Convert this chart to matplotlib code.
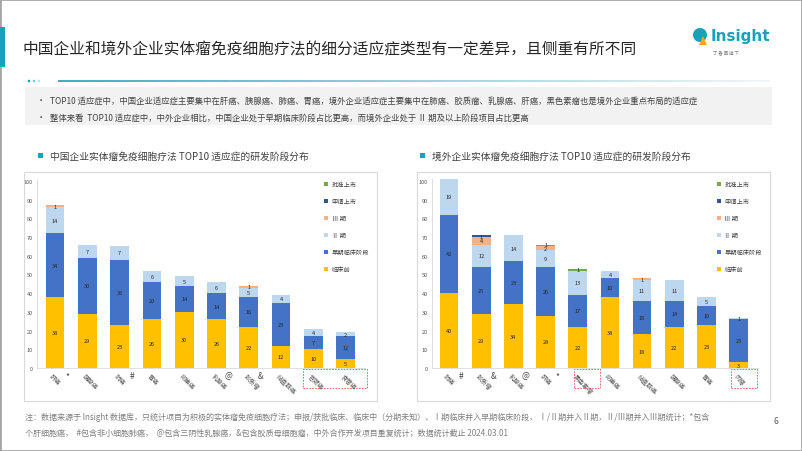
import matplotlib.pyplot as plt
import numpy as np
from matplotlib.patches import Rectangle, Circle, Polygon
from matplotlib.collections import LineCollection
from matplotlib.transforms import blended_transform_factory, IdentityTransform
import matplotlib.colors as mcolors

plt.rcParams['font.family'] = ['Noto Sans CJK SC', 'DejaVu Sans']

W, H = 802, 452

# ---- data ----
stages = ['临床前', '早期临床阶段', 'Ⅱ 期', 'Ⅲ 期', '申请上市', '批准上市']
stage_colors = ['#FFC000', '#4472C4', '#BDD7EE', '#F4B183', '#2F5597', '#70AD47']

cn_cats = ['肝癌', '胰腺癌', '肺癌', '胃癌', '卵巢癌', '乳腺癌', '胶质瘤', '结直肠癌', '宫颈癌', '食管癌']
cn_marks = ['*', '', '#', '', '', '@', '&', '', '', '']
cn_pre = [38, 29, 23, 26, 30, 26, 22, 12, 10, 5]
cn_early = [34, 30, 35, 20, 14, 14, 16, 23, 7, 12]
cn_p2 = [14, 7, 7, 6, 5, 6, 5, 4, 4, 2]
cn_p3 = [1, 0, 0, 0, 0, 0, 1, 0, 0, 0]
cn_filed = [0, 0, 0, 0, 0, 0, 0, 0, 0, 0]
cn_approved = [0, 0, 0, 0, 0, 0, 0, 0, 0, 0]

os_cats = ['肺癌', '胶质瘤', '乳腺癌', '肝癌', '黑色素瘤', '卵巢癌', '结直肠癌', '胰腺癌', '胃癌', '肉瘤']
os_marks = ['#', '&', '@', '*', '', '', '', '', '', '']
os_pre = [40, 29, 34, 28, 22, 38, 18, 22, 23, 3]
os_early = [42, 25, 23, 26, 17, 10, 18, 14, 10, 23]
os_p2 = [19, 12, 14, 9, 13, 4, 11, 11, 5, 1]
os_p3 = [0, 4, 0, 2, 0, 0, 1, 0, 0, 0]
os_filed = [0, 1, 0, 0, 0, 0, 0, 0, 0, 0]
os_approved = [0, 0, 0, 1, 1, 0, 0, 0, 0, 0]

teal = '#17A2B5'


def px(x, y):
    return x / W, 1 - y / H


fig = plt.figure(figsize=(W / 100, H / 100), dpi=100)

# slide frame
fig.add_artist(Rectangle((0, 0), 1, 1, transform=fig.transFigure, fill=False,
                         edgecolor='#A6A6A6', lw=2))
# title accent + title
fig.add_artist(Rectangle(px(0, 68), 5 / W, 40 / H, transform=fig.transFigure, color=teal, lw=0))
fig.text(*px(22, 50), '中国企业和境外企业实体瘤免疫细胞疗法的细分适应症类型有一定差异，且侧重有所不同',
         fontsize=11.3, color='#262626', va='center', ha='left')

# logo
fig.add_artist(Circle((700, H - 36), 7, transform=IdentityTransform(), color=teal, lw=0))
fig.add_artist(Polygon([(699, H - 46), (707, H - 46), (703, H - 37)], closed=True,
                       transform=IdentityTransform(), color='#F5A623', lw=0))
fig.text(*px(711, 37), 'Insight', fontsize=11, fontweight='bold', color=teal, va='center', ha='left',
         family='DejaVu Sans')
fig.text(*px(713, 53), '丁 香 园 旗 下', fontsize=3.2, color='#7F7F7F', va='center', ha='left')

# decorative line
for i, a in enumerate([1.0, 0.6, 0.3]):
    fig.add_artist(Circle((29 + 5 * i, H - 82), 1.3, transform=IdentityTransform(),
                          color=teal, alpha=a, lw=0))
xs = np.linspace(58, 770, 60)
segs = [[px(xs[k], 82), px(xs[k + 1], 82)] for k in range(len(xs) - 1)]
c0, c1 = np.array(mcolors.to_rgb(teal)), np.array(mcolors.to_rgb('#EEF3F5'))
cols = [tuple(c0 + (c1 - c0) * t) for t in np.linspace(0, 1, len(segs))]
fig.add_artist(LineCollection(segs, colors=cols, linewidths=1.2, transform=fig.transFigure))

# bullet box
fig.add_artist(Rectangle(px(25, 126), 747 / W, 38 / H, transform=fig.transFigure,
                         color='#F2F2F2', lw=0))
bullets = ['TOP10 适应症中，中国企业适应症主要集中在肝癌、胰腺癌、肺癌、胃癌，境外企业适应症主要集中在肺癌、胶质瘤、乳腺癌、肝癌，黑色素瘤也是境外企业重点布局的适应症',
           '整体来看  TOP10 适应症中，中外企业相比，中国企业处于早期临床阶段占比更高，而境外企业处于 Ⅱ 期及以上阶段项目占比更高']
for yy, t in zip([101, 118], bullets):
    fig.text(*px(37, yy), '•', fontsize=6, color='#404040', va='center')
    fig.text(*px(50, yy), t, fontsize=6, color='#404040', va='center')

# panel boxes and headers
for x0, hx, head in [(24, 38, '中国企业实体瘤免疫细胞疗法 TOP10 适应症的研发阶段分布'),
                     (417, 420, '境外企业实体瘤免疫细胞疗法 TOP10 适应症的研发阶段分布')]:
    fig.add_artist(Rectangle(px(x0, 402), 353 / W, 229 / H, transform=fig.transFigure,
                             fill=False, edgecolor='#D9D9D9', lw=0.8))
    fig.add_artist(Rectangle(px(hx, 159), 5 / W, 5 / H, transform=fig.transFigure, color=teal, lw=0))
    fig.text(*px(hx + 12, 156.5), head, fontsize=7, color='#404040', va='center')


def draw_chart(rect, xlim, cats, marks, data, boxes, leg_xy):
    ax = fig.add_axes(rect)
    x = np.arange(len(cats))
    bottom = np.zeros(len(cats))
    last_small = np.full(len(cats), -10.0)
    handles = []
    for name, col, vals in zip(stages, stage_colors, data):
        vals = np.array(vals, dtype=float)
        h = ax.bar(x, vals, 0.58, bottom=bottom, color=col, label=name, lw=0)
        handles.append(h)
        for i, (xi, v, b) in enumerate(zip(x, vals, bottom)):
            if v > 0:
                yl = b + v / 2
                # keep thin-segment labels from sitting on top of each other
                if v < 3 and yl - last_small[i] < 2.2:
                    yl = last_small[i] + 2.2
                if v < 3:
                    last_small[i] = yl
                ax.text(xi, yl, f'{int(v)}', ha='center', va='center', fontsize=4,
                        color='#262626')
        bottom += vals
    ax.set_xlim(*xlim)
    ax.set_ylim(0, 101)
    ax.set_yticks(range(0, 101, 10))
    ax.set_xticks([])
    ax.tick_params(axis='y', labelsize=4, colors='#595959', length=0, pad=3)
    for s in ['top', 'right']:
        ax.spines[s].set_visible(False)
    for s in ['left', 'bottom']:
        ax.spines[s].set_color('#D9D9D9')
        ax.spines[s].set_linewidth(0.6)
    ax.patch.set_alpha(0)
    for xi, c, m in zip(x, cats, marks):
        ax.text(xi - 0.05, -2.2, c, rotation=-45, rotation_mode='anchor', ha='left', va='top',
                fontsize=4.5, color='#595959')
        if m:
            ax.text(xi + 0.38, -3.8, m, ha='center', va='center', fontsize=6, color='#404040')
    tr = blended_transform_factory(ax.transData, ax.transAxes)
    for bx0, bx1 in boxes:
        ax.add_patch(Rectangle((bx0, -0.106), bx1 - bx0, 0.101, transform=tr, fill=False,
                               edgecolor='#E05555', lw=0.6, ls=(0, (2, 1.5)), clip_on=False))
    ax.legend(handles[::-1], stages[::-1], loc='upper left', bbox_to_anchor=px(*leg_xy),
              bbox_transform=fig.transFigure, frameon=False, fontsize=4.5, handlelength=0.7,
              handleheight=0.7, handletextpad=0.5, labelspacing=1.45, borderaxespad=0,
              borderpad=0, labelcolor='#404040')
    return ax


ax_h = 188.9 / H
draw_chart([37 / W, 1 - 369 / H, 328 / W, ax_h], (-0.557, 9.6), cn_cats, cn_marks,
           [cn_pre, cn_early, cn_p2, cn_p3, cn_filed, cn_approved],
           [(7.68, 9.66)], (324, 181))
draw_chart([432 / W, 1 - 369 / H, 326 / W, ax_h], (-0.53, 9.6), os_cats, os_marks,
           [os_pre, os_early, os_p2, os_p3, os_filed, os_approved],
           [(3.87, 4.68), (8.75, 9.56)], (717, 181))

# footnote
fig.text(*px(25, 417), '注：数据来源于 Insight 数据库，只统计项目为积极的实体瘤免疫细胞疗法；申报/获批临床、临床中（分期未知）、Ⅰ期临床并入早期临床阶段， Ⅰ/Ⅱ期并入Ⅱ期，Ⅱ/Ⅲ期并入Ⅲ期统计；*包含',
         fontsize=5.8, color='#7F7F7F', va='center')
fig.text(*px(25, 433), '个肝细胞癌，  #包含非小细胞肺癌，  @包含三阴性乳腺癌，&包含胶质母细胞瘤，中外合作开发项目重复统计；数据统计截止 2024.03.01',
         fontsize=5.8, color='#7F7F7F', va='center')
fig.text(*px(776, 422), '6', fontsize=6, color='#595959', va='center', ha='center')

fig.savefig('out.png', dpi=100)
